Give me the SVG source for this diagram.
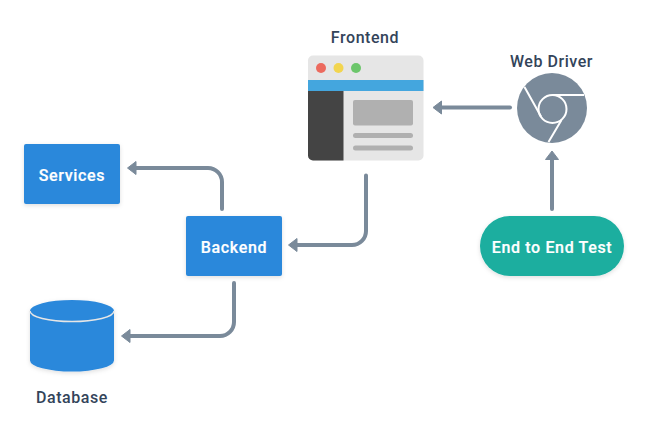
<svg xmlns="http://www.w3.org/2000/svg" width="648" height="432" viewBox="0 0 648 432">
<style>
.lbl{font-family:"Roboto","Liberation Sans",sans-serif;font-size:16px;font-weight:500;fill:#33445a;text-anchor:middle;letter-spacing:.55px}
.in{font-family:"Roboto","Liberation Sans",sans-serif;font-size:16px;font-weight:500;fill:#fff;text-anchor:middle;letter-spacing:.65px;stroke:#fff;stroke-width:.2px}
.conn{fill:none;stroke:#7a8a9a;stroke-width:4;stroke-linecap:round}
.tip{fill:#7a8a9a;stroke:#7a8a9a;stroke-width:1;stroke-linejoin:round}
.box{fill:#2c88db;filter:url(#sh)}
.cw{fill:none;stroke:#fff;stroke-width:2}
</style>
<defs>
<filter id="sh" x="-20%" y="-20%" width="140%" height="150%"><feDropShadow dx="0" dy="1.500" stdDeviation="2" flood-color="#000" flood-opacity=".13"/></filter>
</defs>
<rect width="648" height="432" fill="#fff"/>
<g id="connectors">
<path class="conn" d="M510 107.500H440"/><path class="tip" d="M433 107.500L441.500 101V114Z"/>
<path class="conn" d="M552 209V158"/><path class="tip" d="M552 151L545.500 159.500H558.500Z"/>
<path class="conn" d="M222 209V182A14 14 0 0 0 208 168H134"/><path class="tip" d="M127.500 168L136 161.500V174.500Z"/>
<path class="conn" d="M366 175.500V231A14 14 0 0 1 352 245H295"/><path class="tip" d="M288.500 245L297 238.500V251.500Z"/>
<path class="conn" d="M234 283V322A14 14 0 0 1 220 336H128"/><path class="tip" d="M121.500 336L130 329.500V342.500Z"/>
</g>
<g id="frontend">
<rect x="308" y="55.500" width="115.500" height="105" rx="5" fill="#e6e6e6"/>
<path d="M308 91H343.500V160.500H313A5 5 0 0 1 308 155.500Z" fill="#444"/>
<rect x="308" y="80" width="115.500" height="11" fill="#44a6de"/>
<circle cx="321" cy="68" r="5" fill="#ec6a5e"/><circle cx="338.500" cy="68" r="5" fill="#f2d54f"/><circle cx="356" cy="68" r="5" fill="#6cc66b"/>
<rect x="353" y="100" width="60" height="25.500" rx="2" fill="#b0b0b0"/>
<rect x="353" y="133" width="60" height="5" rx="2.500" fill="#b0b0b0"/>
<rect x="353" y="145.500" width="60" height="5" rx="2.500" fill="#b0b0b0"/>
<text class="lbl" x="365" y="43">Frontend</text>
</g>
<g id="web-driver">
<circle cx="552" cy="108" r="35" fill="#7a8a9a"/>
<circle class="cw" cx="552.500" cy="109" r="14"/>
<path class="cw" d="M553 95H584M524.500 87L541 116.500M548.500 142L561.500 120"/>
<text class="lbl" x="551.500" y="67">Web Driver</text>
</g>
<g id="services">
<rect class="box" x="24" y="144" width="96" height="60" rx="2"/>
<text class="in" x="72" y="180.500">Services</text>
</g>
<g id="backend">
<rect class="box" x="186" y="216" width="96" height="60" rx="2"/>
<text class="in" x="234" y="252.500">Backend</text>
</g>
<g id="database">
<path class="box" d="M30 311A42 11 0 0 1 114 311V360.500A42 11 0 0 1 30 360.500Z"/>
<path d="M30 311A42 10.500 0 0 0 114 311" fill="none" stroke="#e6e6e6" stroke-width="1.500"/>
<text class="lbl" x="72" y="403">Database</text>
</g>
<g id="end-to-end-test">
<rect x="480" y="216" width="144" height="60" rx="30" fill="#1aae9f" filter="url(#sh)"/>
<text class="in" x="552" y="253">End to End Test</text>
</g>
</svg>
